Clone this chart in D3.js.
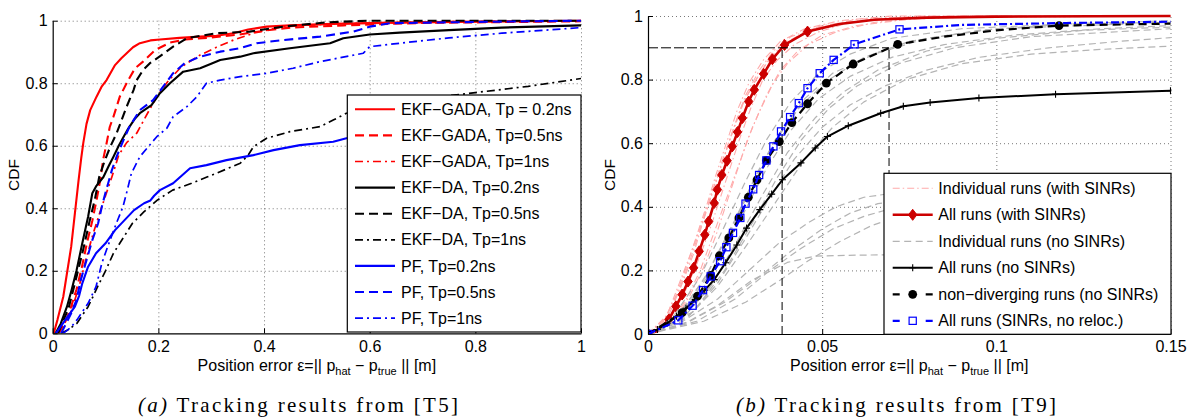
<!DOCTYPE html>
<html>
<head>
<meta charset="utf-8">
<script src="https://cdn.jsdelivr.net/npm/d3@7"></script>
<style>
  body { margin: 0; background: #fff; }
  svg { display: block; }
</style>
</head>
<body>
<svg id="fig" width="1195" height="419"></svg>
<script>
// ---------- panel (a): CDF of position error, x in [0, 1] m ----------
const leftXTicks = [0, 0.2, 0.4, 0.6, 0.8, 1];
const leftXLabels = ["0", "0.2", "0.4", "0.6", "0.8", "1"];
const yTicks = [0, 0.2, 0.4, 0.6, 0.8, 1];
const yLabels = ["0", "0.2", "0.4", "0.6", "0.8", "1"];

const gada02 = [[0.002,0],[0.009,0.043],[0.02,0.117],[0.027,0.192],[0.035,0.277],[0.042,0.384],[0.049,0.49],[0.054,0.56],[0.058,0.61],[0.064,0.67],[0.071,0.714],[0.083,0.757],[0.093,0.79],[0.102,0.81],[0.118,0.858],[0.13,0.88],[0.14,0.896],[0.152,0.915],[0.165,0.928],[0.185,0.937],[0.203,0.94],[0.24,0.945],[0.279,0.949],[0.31,0.952],[0.342,0.96],[0.37,0.972],[0.405,0.981],[0.45,0.985],[0.53,0.99],[0.65,0.994],[0.8,0.997],[1,1]];
const gada05 = [[0.01,0],[0.022,0.03],[0.032,0.07],[0.045,0.14],[0.055,0.21],[0.065,0.29],[0.075,0.36],[0.083,0.426],[0.09,0.49],[0.096,0.56],[0.102,0.608],[0.108,0.66],[0.115,0.693],[0.127,0.757],[0.143,0.81],[0.156,0.848],[0.171,0.869],[0.194,0.906],[0.222,0.93],[0.25,0.94],[0.3,0.946],[0.35,0.955],[0.4,0.968],[0.45,0.978],[0.55,0.985],[0.7,0.993],[1,0.998]];
const gada1 = [[0.012,0],[0.035,0.07],[0.05,0.15],[0.062,0.23],[0.075,0.31],[0.088,0.38],[0.1,0.44],[0.112,0.5],[0.125,0.57],[0.14,0.61],[0.159,0.64],[0.175,0.69],[0.197,0.757],[0.22,0.81],[0.241,0.848],[0.254,0.864],[0.279,0.89],[0.31,0.915],[0.342,0.938],[0.38,0.96],[0.436,0.981],[0.531,0.99],[0.7,0.996],[1,1]];
const da02 = [[0.0055,0],[0.015,0.03],[0.027,0.085],[0.036,0.14],[0.045,0.2],[0.056,0.288],[0.067,0.373],[0.075,0.448],[0.082,0.47],[0.096,0.5],[0.106,0.535],[0.115,0.565],[0.125,0.6],[0.134,0.628],[0.143,0.655],[0.155,0.685],[0.165,0.704],[0.187,0.73],[0.203,0.768],[0.222,0.8],[0.247,0.837],[0.279,0.848],[0.3,0.862],[0.317,0.874],[0.355,0.885],[0.38,0.896],[0.449,0.912],[0.525,0.928],[0.55,0.944],[0.6,0.956],[0.657,0.962],[0.75,0.97],[0.85,0.978],[1,0.985]];
const da05 = [[0.01,0],[0.03,0.08],[0.045,0.18],[0.058,0.27],[0.07,0.36],[0.08,0.43],[0.088,0.5],[0.098,0.55],[0.109,0.597],[0.121,0.64],[0.14,0.725],[0.153,0.778],[0.159,0.81],[0.171,0.842],[0.184,0.864],[0.206,0.89],[0.228,0.917],[0.254,0.944],[0.31,0.96],[0.373,0.965],[0.436,0.981],[0.52,0.995],[0.6,1],[1,1]];
const da1 = [[0.016,0],[0.03,0.012],[0.046,0.032],[0.057,0.06],[0.067,0.085],[0.077,0.12],[0.085,0.149],[0.1,0.2],[0.115,0.256],[0.133,0.304],[0.151,0.352],[0.173,0.389],[0.198,0.426],[0.215,0.445],[0.227,0.458],[0.263,0.48],[0.292,0.5],[0.31,0.512],[0.355,0.544],[0.37,0.57],[0.38,0.597],[0.405,0.624],[0.449,0.645],[0.506,0.661],[0.531,0.682],[0.556,0.704],[0.6,0.72],[0.7,0.75],[0.8,0.77],[0.9,0.79],[1,0.815]];
const pf02 = [[0.006,0],[0.024,0.043],[0.042,0.085],[0.05,0.12],[0.056,0.16],[0.067,0.213],[0.082,0.256],[0.1,0.288],[0.118,0.33],[0.136,0.362],[0.154,0.394],[0.173,0.416],[0.185,0.425],[0.192,0.44],[0.203,0.458],[0.228,0.48],[0.26,0.528],[0.291,0.538],[0.329,0.554],[0.38,0.57],[0.418,0.586],[0.468,0.602],[0.531,0.613],[0.556,0.624],[0.65,0.645],[0.8,0.67],[1,0.7]];
const pf05 = [[0.016,0],[0.025,0.03],[0.035,0.064],[0.045,0.107],[0.053,0.17],[0.064,0.234],[0.075,0.298],[0.086,0.352],[0.093,0.405],[0.1,0.45],[0.105,0.48],[0.112,0.522],[0.121,0.565],[0.134,0.618],[0.145,0.66],[0.165,0.714],[0.19,0.746],[0.209,0.789],[0.228,0.832],[0.25,0.864],[0.279,0.885],[0.317,0.901],[0.355,0.912],[0.386,0.928],[0.436,0.938],[0.506,0.949],[0.569,0.965],[0.6,0.981],[0.639,0.992],[0.8,0.996],[1,1]];
const pf1 = [[0.02,0],[0.035,0.02],[0.046,0.043],[0.067,0.096],[0.082,0.149],[0.093,0.224],[0.104,0.277],[0.118,0.341],[0.133,0.405],[0.14,0.45],[0.149,0.512],[0.165,0.565],[0.181,0.597],[0.197,0.629],[0.216,0.656],[0.228,0.693],[0.254,0.725],[0.273,0.757],[0.291,0.8],[0.317,0.81],[0.355,0.821],[0.405,0.832],[0.455,0.848],[0.506,0.869],[0.588,0.896],[0.6,0.917],[0.657,0.928],[0.75,0.945],[0.85,0.96],[1,0.978]];

const leftLabels = ["EKF\u2212GADA, Tp = 0.2ns", "EKF\u2212GADA, Tp=0.5ns", "EKF\u2212GADA, Tp=1ns",
                    "EKF\u2212DA, Tp=0.2ns", "EKF\u2212DA, Tp=0.5ns", "EKF\u2212DA, Tp=1ns",
                    "PF, Tp=0.2ns", "PF, Tp=0.5ns", "PF, Tp=1ns"];

// ---------- panel (b): CDF of position error, x in [0, 0.15] m ----------
const rightXTicks = [0, 0.05, 0.1, 0.15];
const rightXLabels = ["0", "0.05", "0.1", "0.15"];

const withSinrRuns = [
  [[0,0],[0.005,0.05],[0.009,0.14],[0.012,0.23],[0.015,0.33],[0.018,0.43],[0.021,0.53],[0.024,0.63],[0.027,0.72],[0.031,0.8],[0.035,0.87],[0.04,0.92],[0.047,0.96],[0.06,0.99],[0.08,1],[0.15,1]],
  [[0,0],[0.007,0.04],[0.011,0.11],[0.015,0.2],[0.018,0.29],[0.021,0.38],[0.024,0.47],[0.027,0.56],[0.03,0.65],[0.034,0.75],[0.038,0.83],[0.043,0.89],[0.05,0.94],[0.06,0.97],[0.075,0.99],[0.1,1],[0.15,1]],
  [[0,0],[0.006,0.06],[0.0095,0.15],[0.013,0.25],[0.016,0.36],[0.019,0.46],[0.022,0.56],[0.025,0.66],[0.028,0.75],[0.032,0.83],[0.036,0.89],[0.041,0.935],[0.05,0.97],[0.065,0.99],[0.09,1],[0.15,1]],
  [[0,0],[0.0065,0.05],[0.0105,0.13],[0.014,0.22],[0.0175,0.32],[0.0205,0.42],[0.0235,0.52],[0.0265,0.62],[0.0295,0.71],[0.033,0.8],[0.037,0.86],[0.042,0.91],[0.049,0.95],[0.058,0.98],[0.07,0.995],[0.15,1]],
  [[0,0],[0.0045,0.04],[0.008,0.12],[0.011,0.21],[0.014,0.31],[0.017,0.41],[0.0195,0.5],[0.0225,0.6],[0.0255,0.7],[0.029,0.79],[0.033,0.86],[0.038,0.92],[0.045,0.96],[0.055,0.985],[0.07,1],[0.15,1]],
  [[0,0],[0.008,0.05],[0.012,0.12],[0.016,0.21],[0.0195,0.31],[0.0225,0.41],[0.0255,0.51],[0.0285,0.61],[0.032,0.7],[0.036,0.79],[0.04,0.85],[0.046,0.91],[0.054,0.95],[0.065,0.98],[0.08,0.995],[0.15,1]],
  [[0,0],[0.0055,0.06],[0.009,0.16],[0.0125,0.26],[0.0155,0.35],[0.0185,0.45],[0.0215,0.55],[0.0245,0.64],[0.0275,0.73],[0.0305,0.79],[0.034,0.85],[0.039,0.91],[0.046,0.955],[0.056,0.98],[0.07,0.995],[0.15,1]]
];
const allWithSinr = [[0,0],[0.003,0.01],[0.006,0.046],[0.008,0.087],[0.0098,0.124],[0.0115,0.165],[0.0131,0.208],[0.0147,0.26],[0.0163,0.312],[0.0174,0.354],[0.019,0.412],[0.0199,0.454],[0.0212,0.5],[0.0227,0.545],[0.0242,0.59],[0.0257,0.635],[0.0271,0.679],[0.0289,0.731],[0.0305,0.768],[0.0332,0.818],[0.0357,0.864],[0.0392,0.909],[0.0458,0.951],[0.055,0.975],[0.065,0.988],[0.08,0.995],[0.1,0.998],[0.15,1]];
const allWithSinrMarks = [[0,0],[0.006,0.046],[0.008,0.087],[0.0098,0.124],[0.0115,0.165],[0.0131,0.208],[0.0147,0.26],[0.0163,0.312],[0.0174,0.354],[0.019,0.412],[0.0199,0.454],[0.0212,0.5],[0.0227,0.545],[0.0242,0.59],[0.0257,0.635],[0.0271,0.679],[0.0289,0.731],[0.0305,0.768],[0.0332,0.818],[0.0357,0.864],[0.0392,0.909],[0.0458,0.951]];
const noSinrRuns = [
  [[0,0],[0.008,0.05],[0.016,0.17],[0.024,0.33],[0.03,0.47],[0.036,0.6],[0.044,0.72],[0.052,0.8],[0.062,0.87],[0.075,0.92],[0.095,0.955],[0.12,0.975],[0.15,0.985]],
  [[0,0],[0.01,0.05],[0.018,0.15],[0.026,0.3],[0.033,0.44],[0.04,0.57],[0.048,0.68],[0.056,0.76],[0.066,0.83],[0.08,0.89],[0.1,0.93],[0.125,0.955],[0.15,0.965]],
  [[0,0],[0.009,0.06],[0.017,0.19],[0.025,0.36],[0.031,0.5],[0.037,0.62],[0.045,0.74],[0.053,0.82],[0.065,0.88],[0.08,0.93],[0.1,0.96],[0.15,0.98]],
  [[0,0],[0.012,0.06],[0.02,0.16],[0.028,0.3],[0.035,0.43],[0.042,0.55],[0.05,0.65],[0.058,0.72],[0.068,0.78],[0.08,0.83],[0.095,0.87],[0.115,0.9],[0.135,0.92],[0.15,0.932]],
  [[0,0],[0.011,0.05],[0.02,0.15],[0.029,0.29],[0.037,0.42],[0.045,0.55],[0.053,0.65],[0.062,0.73],[0.074,0.8],[0.09,0.85],[0.11,0.88],[0.13,0.895],[0.15,0.905]],
  [[0,0],[0.007,0.05],[0.015,0.18],[0.022,0.34],[0.028,0.48],[0.034,0.61],[0.041,0.73],[0.049,0.82],[0.058,0.88],[0.07,0.93],[0.09,0.96],[0.12,0.975],[0.15,0.98]],
  [[0,0],[0.01,0.07],[0.019,0.21],[0.027,0.37],[0.034,0.52],[0.041,0.64],[0.049,0.74],[0.058,0.81],[0.07,0.87],[0.085,0.91],[0.105,0.94],[0.13,0.96],[0.15,0.97]],
  [[0,0],[0.013,0.07],[0.022,0.2],[0.03,0.35],[0.037,0.49],[0.044,0.61],[0.052,0.71],[0.06,0.78],[0.072,0.85],[0.088,0.9],[0.11,0.935],[0.15,0.96]],
  [[0,0],[0.01,0.03],[0.02,0.09],[0.03,0.17],[0.04,0.225],[0.048,0.245],[0.06,0.248],[0.08,0.25],[0.1,0.252],[0.15,0.255]],
  [[0,0],[0.01,0.04],[0.02,0.11],[0.03,0.21],[0.038,0.29],[0.046,0.35],[0.054,0.4],[0.062,0.43],[0.075,0.45],[0.1,0.46],[0.15,0.47]],
  [[0,0],[0.012,0.04],[0.022,0.1],[0.032,0.18],[0.041,0.26],[0.05,0.33],[0.058,0.38],[0.066,0.41],[0.08,0.43],[0.1,0.44],[0.15,0.45]],
  [[0,0],[0.014,0.04],[0.025,0.11],[0.035,0.2],[0.044,0.27],[0.053,0.33],[0.062,0.37],[0.07,0.395],[0.085,0.41],[0.15,0.43]],
  [[0,0],[0.016,0.04],[0.028,0.1],[0.038,0.17],[0.046,0.23],[0.055,0.29],[0.064,0.34],[0.072,0.37],[0.09,0.39],[0.15,0.405]]
];
const allNoSinr = [[0,0],[0.0027,0.014],[0.0055,0.034],[0.0082,0.056],[0.0109,0.081],[0.0136,0.108],[0.0163,0.138],[0.019,0.171],[0.0223,0.224],[0.0255,0.28],[0.0283,0.333],[0.0321,0.391],[0.0355,0.44],[0.0386,0.485],[0.0439,0.538],[0.048,0.585],[0.0515,0.621],[0.0575,0.655],[0.0668,0.694],[0.0733,0.716],[0.081,0.728],[0.095,0.742],[0.117,0.754],[0.15,0.765]];
const nonDiverging = [[0,0],[0.0098,0.067],[0.0142,0.119],[0.018,0.184],[0.0205,0.246],[0.0232,0.302],[0.0261,0.365],[0.0288,0.43],[0.0313,0.485],[0.034,0.546],[0.0377,0.605],[0.0413,0.665],[0.0458,0.724],[0.0512,0.789],[0.0589,0.849],[0.0717,0.911],[0.085,0.935],[0.1,0.955],[0.118,0.97],[0.15,0.976]];
const nonDivergingMarks = [[0,0],[0.0098,0.067],[0.0142,0.119],[0.018,0.184],[0.0205,0.246],[0.0232,0.302],[0.0261,0.365],[0.0288,0.43],[0.0313,0.485],[0.034,0.546],[0.0377,0.605],[0.0413,0.665],[0.0458,0.724],[0.0512,0.789],[0.0589,0.849],[0.0717,0.911],[0.118,0.97]];
const noReloc = [[0,0],[0.0087,0.043],[0.0128,0.089],[0.0158,0.138],[0.018,0.181],[0.0207,0.229],[0.0225,0.273],[0.0244,0.318],[0.0265,0.365],[0.028,0.41],[0.0302,0.455],[0.0319,0.5],[0.034,0.546],[0.036,0.59],[0.0382,0.637],[0.0408,0.682],[0.0433,0.726],[0.0458,0.773],[0.0493,0.82],[0.0533,0.862],[0.0593,0.911],[0.0722,0.958],[0.09,0.972],[0.12,0.978],[0.15,0.982]];
const noRelocMarks = [[0,0],[0.0087,0.043],[0.0128,0.089],[0.0158,0.138],[0.018,0.181],[0.0207,0.229],[0.0225,0.273],[0.0244,0.318],[0.0265,0.365],[0.028,0.41],[0.0302,0.455],[0.0319,0.5],[0.034,0.546],[0.036,0.59],[0.0382,0.637],[0.0408,0.682],[0.0433,0.726],[0.0458,0.773],[0.0493,0.82],[0.0533,0.862],[0.0593,0.911],[0.0722,0.958]];
// 90 % error levels of the two reference CDFs
const level90 = 0.9;
const err90 = [0.0385, 0.0692];

const rightLabels = ["Individual runs (with SINRs)", "All runs (with SINRs)", "Individual runs (no SINRs)",
                     "All runs (no SINRs)", "non\u2212diverging runs (no SINRs)", "All runs (SINRs, no reloc.)"];

// ---------- drawing ----------
const SANS = '"Liberation Sans", Arial, Helvetica, sans-serif';
const SERIF = '"Liberation Serif", "Times New Roman", serif';
const svg = d3.select("#fig");
const DASH = "9,5", DASHDOT = "8,4,2,4";

function makePanel(id, box, xDomain, xTicks, xLabels) {
  const x = d3.scaleLinear().domain(xDomain).range([box.x0, box.x1]);
  const y = d3.scaleLinear().domain([0, 1]).range([box.yB, box.yT]);
  const g = svg.append("g").attr("id", id);

  // dotted grid
  g.append("g").attr("transform", `translate(0,${box.yB})`)
    .call(d3.axisBottom(x).tickValues(xTicks.filter(v => v > 0)).tickSize(-(box.yB - box.yT)).tickFormat(""))
    .call(s => s.select(".domain").remove())
    .call(s => s.selectAll("line").attr("stroke", "#555").attr("stroke-width", 0.8).attr("stroke-dasharray", "1,3"));
  g.append("g").attr("transform", `translate(${box.x0},0)`)
    .call(d3.axisLeft(y).tickValues(yTicks.filter(v => v > 0)).tickSize(-(box.x1 - box.x0)).tickFormat(""))
    .call(s => s.select(".domain").remove())
    .call(s => s.selectAll("line").attr("stroke", "#555").attr("stroke-width", 0.8).attr("stroke-dasharray", "1,3"));

  const clipId = id + "-clip";
  g.append("clipPath").attr("id", clipId).append("rect")
    .attr("x", box.x0).attr("y", box.yT - 3).attr("width", box.x1 - box.x0 + 1).attr("height", box.yB - box.yT + 3);
  const plot = g.append("g").attr("clip-path", `url(#${clipId})`);

  const axes = () => {
    g.append("g").attr("transform", `translate(0,${box.yB})`)
      .call(d3.axisBottom(x).tickValues(xTicks).tickSizeInner(-5).tickSizeOuter(0).tickPadding(7)
            .tickFormat((d, i) => xLabels[i]))
      .call(s => s.select(".domain").attr("stroke", "#000").attr("stroke-width", 1.2))
      .call(s => s.selectAll("text").attr("font-family", SANS).attr("font-size", 16).attr("fill", "#000"));
    g.append("g").attr("transform", `translate(${box.x0},0)`)
      .call(d3.axisLeft(y).tickValues(yTicks).tickSizeInner(-5).tickSizeOuter(0).tickPadding(5)
            .tickFormat((d, i) => yLabels[i]))
      .call(s => s.select(".domain").attr("stroke", "#000").attr("stroke-width", 1.2))
      .call(s => s.selectAll("text").attr("font-family", SANS).attr("font-size", 16).attr("fill", "#000"));
  };
  return { x, y, g, plot, axes, box };
}

function drawLine(p, layer, data, color, width, dash) {
  const line = d3.line().x(d => p.x(d[0])).y(d => p.y(d[1]));
  layer.append("path").attr("d", line(data)).attr("fill", "none")
    .attr("stroke", color).attr("stroke-width", width)
    .attr("stroke-dasharray", dash || null).attr("stroke-linejoin", "round");
}

function marker(sel, type, cx, cy) {
  if (type === "diamond") {
    sel.append("path").attr("d", `M${cx},${cy - 5.5}L${cx + 4.2},${cy}L${cx},${cy + 5.5}L${cx - 4.2},${cy}Z`)
      .attr("fill", "#cc0000").attr("stroke", "#cc0000").attr("stroke-width", 1);
  } else if (type === "plus") {
    sel.append("path").attr("d", `M${cx - 3.5},${cy}H${cx + 3.5}M${cx},${cy - 3.5}V${cy + 3.5}`)
      .attr("stroke", "#000").attr("stroke-width", 1.1);
  } else if (type === "circle") {
    sel.append("circle").attr("cx", cx).attr("cy", cy).attr("r", 4.4).attr("fill", "#000");
  } else if (type === "square") {
    sel.append("rect").attr("x", cx - 3.6).attr("y", cy - 3.6).attr("width", 7.2).attr("height", 7.2)
      .attr("fill", "none").attr("stroke", "#0000ff").attr("stroke-width", 1.2);
  }
}

function drawMarks(p, layer, data, type) {
  const mg = layer.append("g");
  data.forEach(d => marker(mg, type, p.x(d[0]), p.y(d[1])));
}

function axisTitles(p, cx) {
  p.g.append("text").attr("transform", `translate(${cx},175) rotate(-90)`)
    .attr("text-anchor", "middle").attr("font-family", SANS).attr("font-size", 15.5).text("CDF");
  const t = p.g.append("text").attr("x", (p.box.x0 + p.box.x1) / 2).attr("y", 371)
    .attr("text-anchor", "middle").attr("font-family", SANS).attr("font-size", 16);
  t.append("tspan").text("Position error \u03b5=|| p");
  t.append("tspan").attr("font-size", 11).attr("dy", 4).text("hat");
  t.append("tspan").attr("dy", -4).text(" \u2212 p");
  t.append("tspan").attr("font-size", 11).attr("dy", 4).text("true");
  t.append("tspan").attr("dy", -4).text(" || [m]");
}

function legend(p, box, rows) {
  const lg = p.g.append("g");
  lg.append("rect").attr("x", box.x).attr("y", box.y).attr("width", box.w).attr("height", box.h)
    .attr("fill", "#fff").attr("stroke", "#000").attr("stroke-width", 1.2);
  rows.forEach((r, i) => {
    const cy = box.firstRow + i * box.step;
    lg.append("line").attr("x1", box.lx0).attr("x2", box.lx1).attr("y1", cy).attr("y2", cy)
      .attr("stroke", r.color).attr("stroke-width", r.width).attr("stroke-dasharray", r.dash || null);
    if (r.marker) marker(lg, r.marker, (box.lx0 + box.lx1) / 2, cy);
    lg.append("text").attr("x", box.tx).attr("y", cy + 5.6).attr("font-family", SANS)
      .attr("font-size", 16).text(r.label);
  });
}

function caption(cx, letter, rest) {
  const t = svg.append("text").attr("x", cx).attr("y", 412).attr("text-anchor", "middle")
    .attr("font-family", SERIF).attr("font-size", 21).attr("textLength", 320).attr("lengthAdjust", "spacing");
  t.append("tspan").attr("font-style", "italic").text(letter);
  t.append("tspan").text(rest);
}

// ----- panel (a) -----
const A = makePanel("panel-a", { x0: 52.7, x1: 581, yT: 20.7, yB: 333.3 }, [0, 1], leftXTicks, leftXLabels);
const leftSeries = [
  { data: gada02, color: "#ff0000", dash: null },
  { data: gada05, color: "#ff0000", dash: DASH },
  { data: gada1,  color: "#ff0000", dash: DASHDOT },
  { data: da02,   color: "#000000", dash: null },
  { data: da05,   color: "#000000", dash: DASH },
  { data: da1,    color: "#000000", dash: DASHDOT },
  { data: pf02,   color: "#0000ff", dash: null },
  { data: pf05,   color: "#0000ff", dash: DASH },
  { data: pf1,    color: "#0000ff", dash: DASHDOT }
];
leftSeries.forEach(s => drawLine(A, A.plot, s.data, s.color, s.dash === DASHDOT ? 1.7 : 2.1, s.dash));
A.axes();
axisTitles(A, 19);
legend(A, { x: 347.3, y: 95, w: 233.7, h: 237, firstRow: 109.3, step: 26.1, lx0: 355, lx1: 395, tx: 401 },
  leftSeries.map((s, i) => ({ label: leftLabels[i], color: s.color, width: s.dash === DASHDOT ? 1.7 : 2.1, dash: s.dash })));
caption(298, "(a)", " Tracking results from [T5]");

// ----- panel (b) -----
const B = makePanel("panel-b", { x0: 648, x1: 1170.5, yT: 16, yB: 334 }, [0, 0.15], rightXTicks, rightXLabels);
const PINK = "#ffabab", GRAY = "#b4b4b4", DRED = "#cc0000";
withSinrRuns.forEach(r => drawLine(B, B.plot, r, PINK, 1.1, "7,3,1.5,3"));
drawLine(B, B.plot, allWithSinr, DRED, 2.6, null);
drawMarks(B, B.plot, allWithSinrMarks, "diamond");
noSinrRuns.forEach(r => drawLine(B, B.plot, r, GRAY, 1.2, "7,4"));
// 90 % reference lines
B.plot.append("line").attr("x1", B.x(0)).attr("x2", B.x(err90[1])).attr("y1", B.y(level90)).attr("y2", B.y(level90))
  .attr("stroke", "#000").attr("stroke-width", 1).attr("stroke-dasharray", "10,3");
err90.forEach(e => B.plot.append("line").attr("x1", B.x(e)).attr("x2", B.x(e)).attr("y1", B.y(0)).attr("y2", B.y(level90))
  .attr("stroke", "#000").attr("stroke-width", 1).attr("stroke-dasharray", "8,4"));
drawLine(B, B.plot, allNoSinr, "#000", 2, null);
drawMarks(B, B.plot, allNoSinr, "plus");
drawLine(B, B.plot, nonDiverging, "#000", 2.2, "8,5");
drawMarks(B, B.plot, nonDivergingMarks, "circle");
drawLine(B, B.plot, noReloc, "#0000ff", 2.2, "8,3,2,3");
drawMarks(B, B.plot, noRelocMarks, "square");
B.axes();
axisTitles(B, 615);
legend(B, { x: 884, y: 173.3, w: 287, h: 161, firstRow: 188.3, step: 26.5, lx0: 892.7, lx1: 932.7, tx: 938.3 }, [
  { label: rightLabels[0], color: PINK, width: 1.1, dash: "7,3,1.5,3" },
  { label: rightLabels[1], color: DRED, width: 2.6, dash: null, marker: "diamond" },
  { label: rightLabels[2], color: GRAY, width: 1.2, dash: "7,4.5" },
  { label: rightLabels[3], color: "#000", width: 2, dash: null, marker: "plus" },
  { label: rightLabels[4], color: "#000", width: 2.2, dash: "7,26,7", marker: "circle" },
  { label: rightLabels[5], color: "#0000ff", width: 2.2, dash: "7,26,7", marker: "square" }
]);
caption(896, "(b)", " Tracking results from [T9]");
</script>
</body>
</html>
